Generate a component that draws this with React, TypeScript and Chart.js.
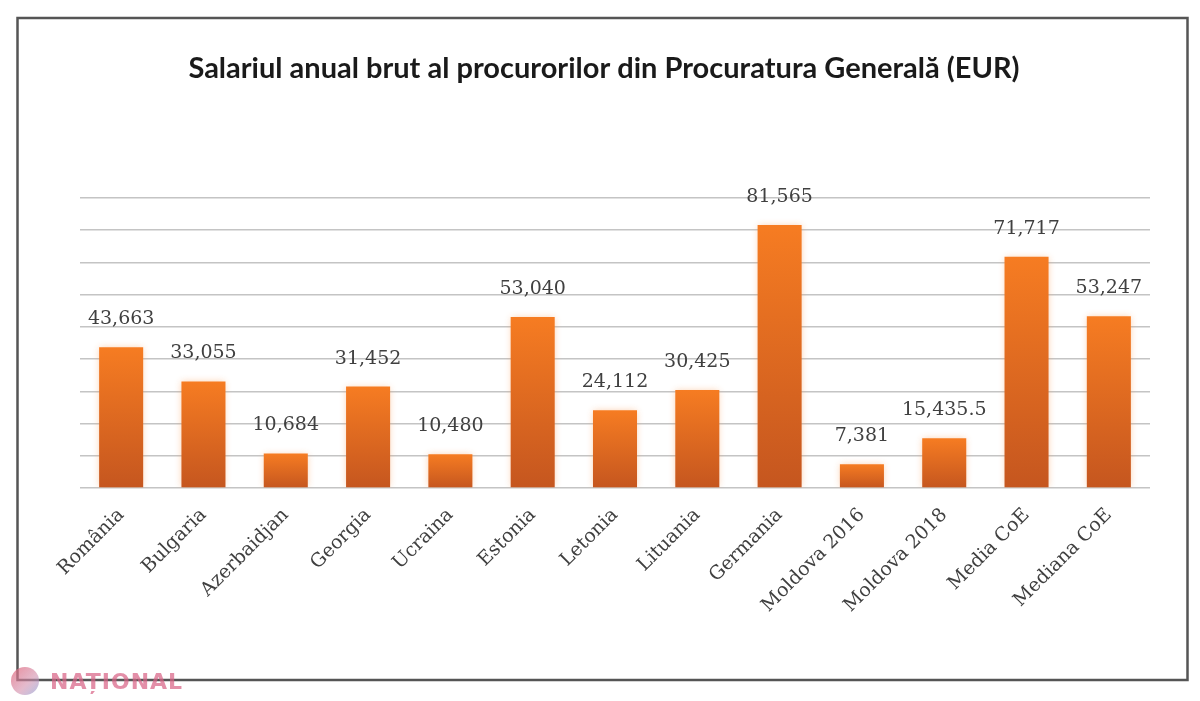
import React, { useEffect, useRef } from "react";
import { Chart, registerables } from "chart.js";

Chart.register(...registerables);

const categories = [
  "România",
  "Bulgaria",
  "Azerbaidjan",
  "Georgia",
  "Ucraina",
  "Estonia",
  "Letonia",
  "Lituania",
  "Germania",
  "Moldova 2016",
  "Moldova 2018",
  "Media CoE",
  "Mediana CoE",
];

const salaries = [43663, 33055, 10684, 31452, 10480, 53040, 24112, 30425, 81565, 7381, 15435.5, 71717, 53247];

const yMin = 0;
const yMax = 90000;
const yStep = 10000;

const titleText = "Salariul anual brut al procurorilor din Procuratura Generală (EUR)";
const watermarkText = "NAȚIONAL";

const decorPlugin = {
  id: "decor",
  beforeDatasetsDraw(chart: any) {
    const ctx = chart.ctx;
    ctx.save();
    ctx.shadowColor = "rgba(246, 150, 80, 0.45)";
    ctx.shadowBlur = 7;
  },
  afterDatasetsDraw(chart: any) {
    const ctx = chart.ctx;
    ctx.restore();
    const meta = chart.getDatasetMeta(0);
    ctx.save();
    ctx.font = "19px 'DejaVu Serif'";
    ctx.fillStyle = "#404040";
    ctx.textAlign = "center";
    ctx.textBaseline = "middle";
    meta.data.forEach((el: any, i: number) => {
      const v = chart.data.datasets[0].data[i] as number;
      ctx.fillText(v.toLocaleString("en-US"), el.x, el.y - 28);
    });
    ctx.restore();
  },
  afterDraw(chart: any) {
    const ctx = chart.ctx;
    ctx.save();
    ctx.strokeStyle = "#555555";
    ctx.lineWidth = 2.5;
    ctx.strokeRect(17.5, 18, 1170, 662);
    // watermark
    const g = ctx.createLinearGradient(12, 668, 40, 696);
    g.addColorStop(0, "rgba(226, 104, 124, 0.75)");
    g.addColorStop(0.55, "rgba(210, 140, 170, 0.6)");
    g.addColorStop(1, "rgba(140, 170, 225, 0.7)");
    ctx.fillStyle = g;
    ctx.beginPath();
    ctx.arc(25, 681, 14, 0, Math.PI * 2);
    ctx.fill();
    ctx.font = "bold 22px 'DejaVu Sans'";
    (ctx as any).letterSpacing = "1px";
    ctx.fillStyle = "rgba(216, 100, 135, 0.72)";
    ctx.textAlign = "left";
    ctx.textBaseline = "alphabetic";
    ctx.fillText(watermarkText, 50, 689);
    ctx.restore();
  },
};

export default function App() {
  const ref = useRef<HTMLCanvasElement | null>(null);

  useEffect(() => {
    if (!ref.current) return;
    const chart = new Chart(ref.current, {
      type: "bar",
      data: {
        labels: categories,
        datasets: [
          {
            data: salaries,
            backgroundColor: (c: any) => {
              const chart = c.chart;
              const ys = chart.scales && chart.scales.y;
              if (!ys || c.type !== "data") return "#e86a22";
              const top = ys.getPixelForValue(c.raw);
              const bot = ys.getPixelForValue(0);
              if (!isFinite(top) || !isFinite(bot) || top === bot) return "#e86a22";
              const g = chart.ctx.createLinearGradient(0, top, 0, bot);
              g.addColorStop(0, "#f67c22");
              g.addColorStop(1, "#c5561f");
              return g;
            },
            borderWidth: 0,
            barPercentage: 0.535,
            categoryPercentage: 1,
          },
        ],
      },
      options: {
        animation: false,
        responsive: false,
        devicePixelRatio: 1,
        layout: { padding: { left: 58, right: 50, top: 0, bottom: 0 } },
        plugins: {
          legend: { display: false },
          tooltip: { enabled: false },
          title: {
            display: true,
            text: titleText,
            color: "#1a1a1a",
            font: { family: "Lato", weight: "bold", size: 29, lineHeight: 1.2 },
            padding: { top: 51, bottom: 112 },
          },
        },
        scales: {
          x: {
            grid: { display: false },
            border: { display: false },
            ticks: {
              minRotation: 45,
              maxRotation: 45,
              color: "#404040",
              padding: 8,
              font: { family: "DejaVu Serif", size: 19 },
            },
            afterFit: (s: any) => {
              s.height = 213;
            },
          },
          y: {
            min: yMin,
            max: yMax,
            ticks: { display: false, stepSize: yStep },
            border: { display: false },
            grid: { color: "#c4c4c4", lineWidth: 1.5, drawTicks: false },
            afterFit: (s: any) => {
              s.width = 22;
            },
          },
        },
      },
      plugins: [decorPlugin],
    });
    return () => chart.destroy();
  }, []);

  return (
    <div style={{ position: "fixed", left: 0, top: 0, width: 1200, height: 701, background: "#ffffff" }}>
      <canvas ref={ref} width={1200} height={701} style={{ width: 1200, height: 701, display: "block" }} />
    </div>
  );
}
